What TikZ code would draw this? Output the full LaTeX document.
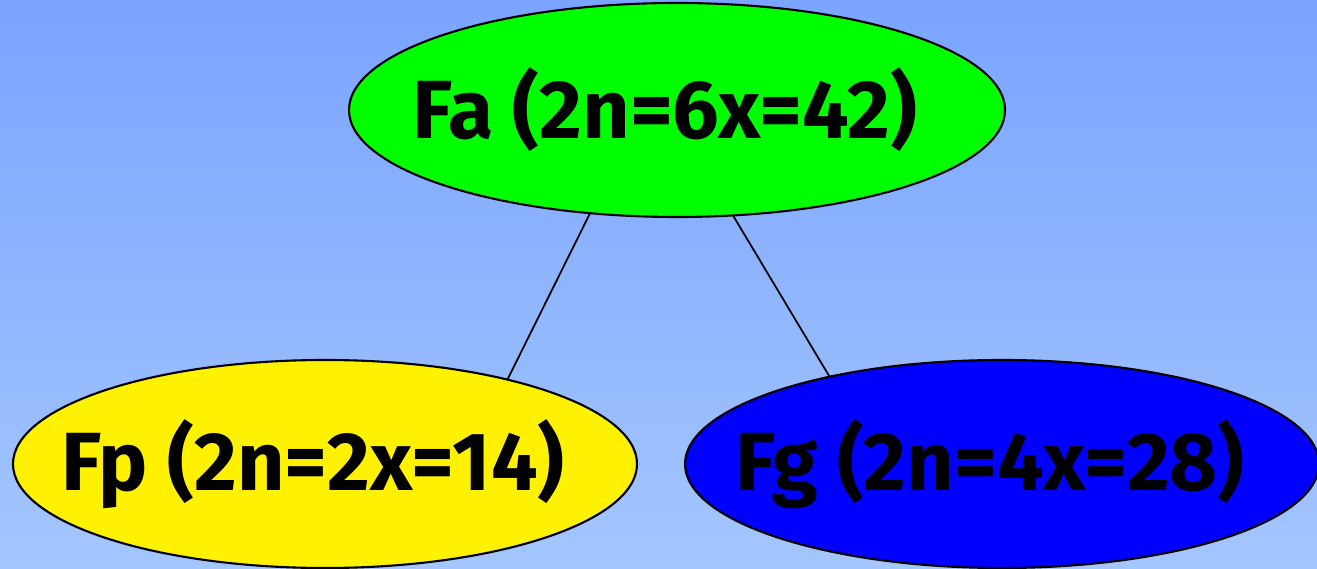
\documentclass[tikz,border=0pt]{standalone}
\usepackage{fontspec}
\setmainfont{Fira Sans}
\usetikzlibrary{shapes.geometric}

\definecolor{skytop}{RGB}{122,164,255}
\definecolor{skybottom}{RGB}{164,198,255}

% text of a genome, kept out of the ellipse size
\newcommand{\gtext}[1]{\raisebox{-1.8mm}{\makebox[0pt]{\kern-2.4mm #1}}}

\tikzset{
  genome/.style={ellipse, draw=black, line width=0.6pt, inner sep=0pt,
    font=\fontsize{23.5}{28}\selectfont\bfseries},
  link/.style={black, line width=0.5pt}
}

\begin{document}
\begin{tikzpicture}[line cap=round, line join=round]
		% Picture window, one unit = 100 px of the reference
		\def\picw{13.17} \def\pich{5.69}
		
		% Sky-blue gradient background
		\shade[top color=skytop, bottom color=skybottom] (0,0) rectangle (\picw,\pich);
		\useasboundingbox (0,0) rectangle (\picw,\pich);
		
		% The three genomes
		\node[genome, fill=green, minimum width=6.56cm, minimum height=2.14cm] (fa) at (6.77,4.59) {\gtext{Fa (2n=6x=42)}};
		\node[genome, fill=yellow, minimum width=6.24cm, minimum height=2.08cm] (fp) at (3.25,1.05) {\gtext{Fp (2n=2x=14)}};
		\node[genome, fill=blue, minimum width=6.34cm, minimum height=2.08cm] (fg) at (10.02,1.05) {\gtext{Fg (2n=4x=28)}};
		
		% Links between parent and the two diploid / tetraploid genomes
		\draw[link] (fa.230.6) -- (fp.25.1);
		\draw[link] (fa.298.5) -- (fg.153.3);
	\end{tikzpicture}
\end{document}
